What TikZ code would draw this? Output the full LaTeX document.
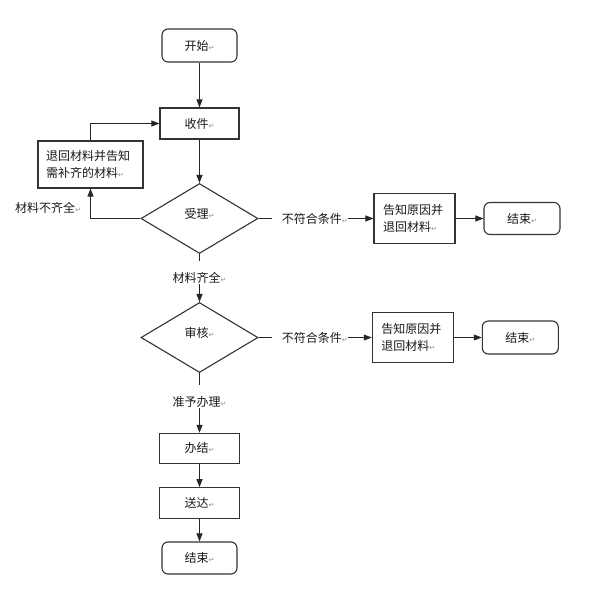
\documentclass[tikz,border=0pt]{standalone}
\usepackage{fontspec}
\newfontfamily\cjk{Noto Sans CJK SC}
\newfontfamily\djv{DejaVu Sans}
\usetikzlibrary{shapes.geometric,arrows.meta}
\newcommand{\retmark}{{\djv\fontsize{7}{7}\selectfont\textcolor{black!45}{↵}}}
\begin{document}
\begin{tikzpicture}[x=1pt,y=-1pt,
  every node/.style={font=\cjk\fontsize{12}{16.5}\selectfont, text=black!90},
  box/.style={draw=black!80, line width=1.1pt, inner sep=0pt, align=center},
  rbox/.style={box, rounded corners=6pt},
  dia/.style={draw=black!80, line width=1.1pt, diamond, inner sep=0pt, text height=10pt, text depth=10pt, minimum width=117pt, minimum height=70pt},
  vlbl/.style={inner xsep=1pt, inner ysep=1pt, text height=20pt, text depth=1pt, anchor=base},
  hlbl/.style={inner sep=0pt, anchor=west},
  ln/.style={draw=black!85, line width=0.95pt},
  arr/.style={ln, -{Triangle[length=8pt,width=6pt]}}]
\useasboundingbox[fill=white] (0,0) rectangle (594,600);
% main column
\node[rbox, minimum width=75pt, minimum height=33pt] (start) at (199.5,45.5) {开始\retmark};
\node[box, minimum width=79pt, minimum height=31pt] (recv) at (199.5,123.5) {收件\retmark};
\node[dia] (acc) at (199.5,218.5) {受理\retmark};
\node[box, minimum width=105pt, minimum height=47pt, text width=89pt, inner xsep=8pt, align=left] (ret) at (90.5,164.5) {退回材料并告知\\需补齐的材料\retmark};
\node (lack) at (48,208) {材料不齐全\retmark};
\node[hlbl] (nc1) at (271.7,218.5) {\hspace*{10pt}不符合条件\retmark};
\node[box, minimum width=81pt, minimum height=50pt, text width=63pt, inner xsep=9pt, align=left] (tell1) at (414.5,218.5) {告知原因并\\退回材料\retmark};
\node[rbox, minimum width=76pt, minimum height=32pt] (end1) at (522,218.5) {结束\retmark};
\node[vlbl] (full) at (199.5,282) {材料齐全\retmark};
\node[dia] (rev) at (199.5,337.5) {审核\retmark};
\node[hlbl] (nc2) at (271.7,337.5) {\hspace*{10pt}不符合条件\retmark};
\node[box, minimum width=81pt, minimum height=50pt, text width=63pt, inner xsep=9pt, align=left] (tell2) at (412.8,337.5) {告知原因并\\退回材料\retmark};
\node[rbox, minimum width=76pt, minimum height=33pt] (end2) at (520.3,337.5) {结束\retmark};
\node[vlbl] (ok) at (199.5,406) {准予办理\retmark};
\node[box, minimum width=80pt, minimum height=30pt] (done) at (199.5,448.3) {办结\retmark};
\node[box, minimum width=80pt, minimum height=30.6pt] (deliv) at (199.5,503) {送达\retmark};
\node[rbox, minimum width=75pt, minimum height=32pt] (end3) at (199.5,558) {结束\retmark};
% connectors
\draw[arr] (start) -- (recv);
\draw[arr] (recv) -- (acc);
\draw[arr] (acc.west) -| (ret.south);
\draw[arr] (ret.north) |- (recv.west);
\draw[ln] (acc.east) -- (nc1.west);
\draw[arr] (nc1.east) -- (tell1.west);
\draw[arr] (tell1.east) -- (end1.west);
\draw[ln] (acc.south) -- (full.north);
\draw[arr] (full.south) -- (rev.north);
\draw[ln] (rev.east) -- (nc2.west);
\draw[arr] (nc2.east) -- (tell2.west);
\draw[arr] (tell2.east) -- (end2.west);
\draw[ln] (rev.south) -- (ok.north);
\draw[arr] (ok.south) -- (done.north);
\draw[arr] (done) -- (deliv);
\draw[arr] (deliv) -- (end3);
\end{tikzpicture}
\end{document}
